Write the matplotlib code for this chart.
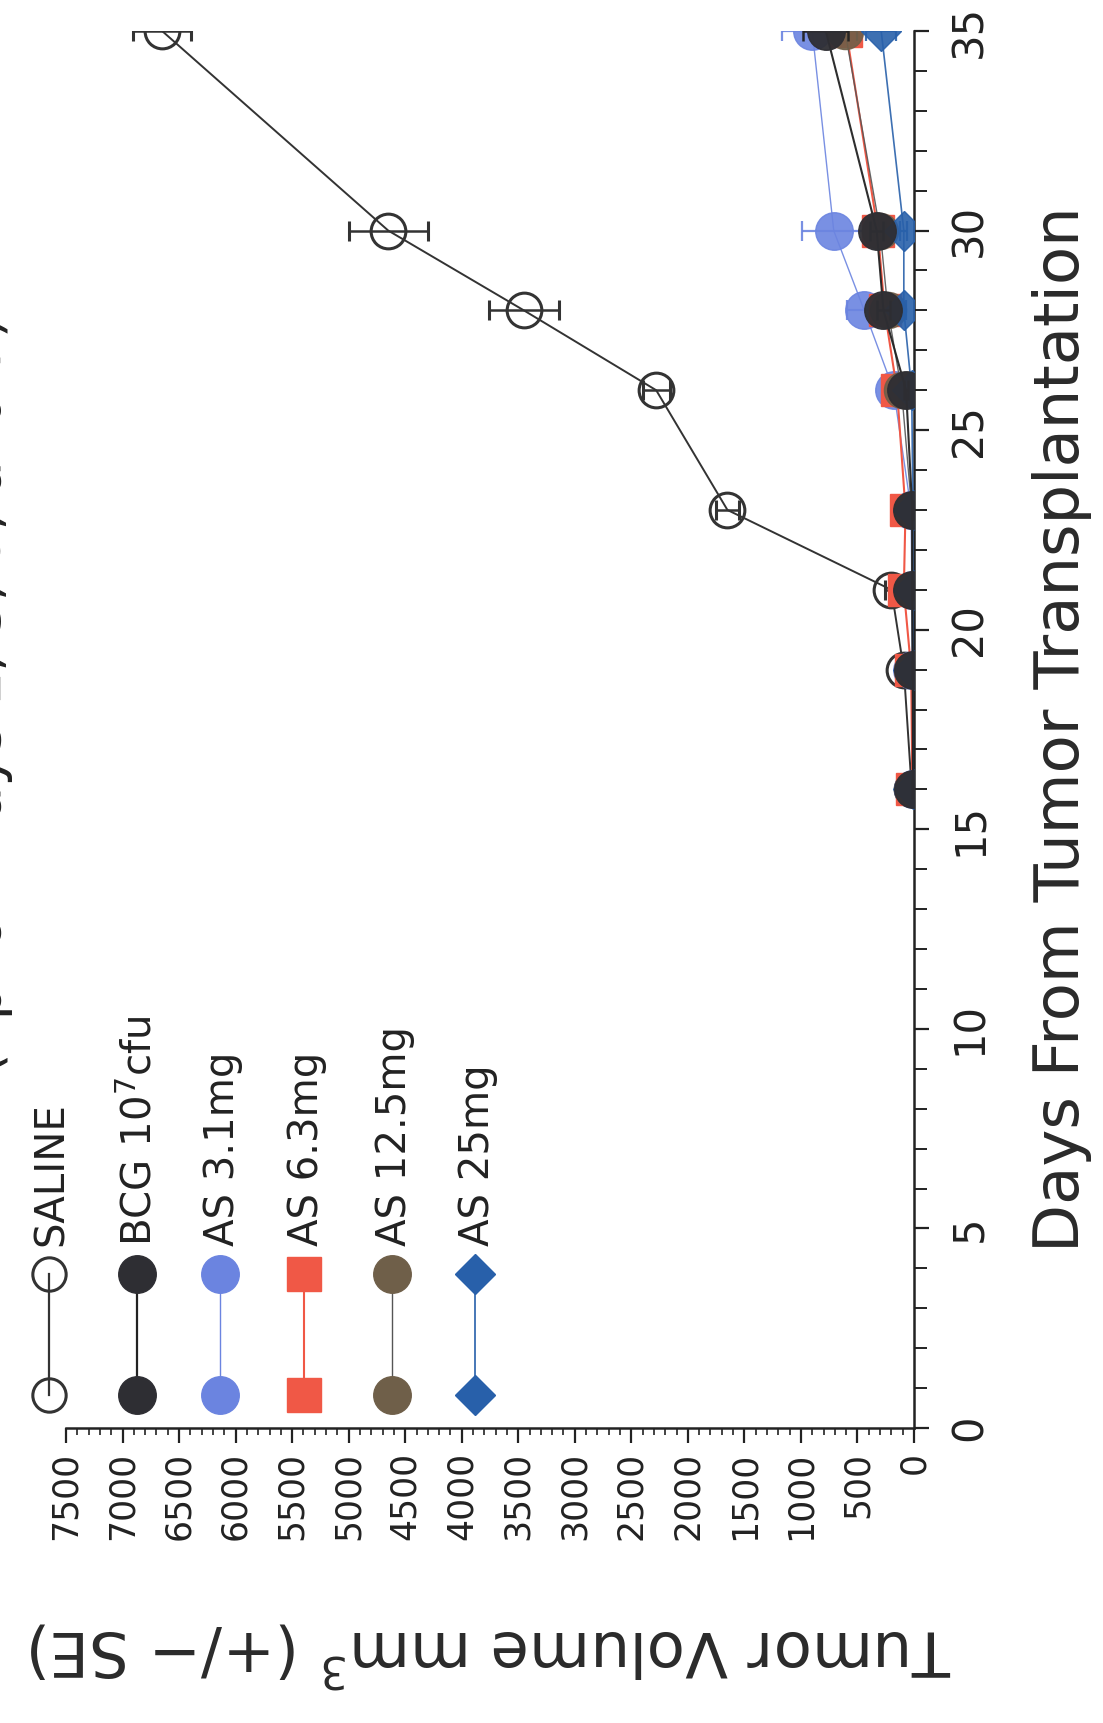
import numpy as np
import matplotlib
matplotlib.use('Agg')
import matplotlib.pyplot as plt
from matplotlib.ticker import MultipleLocator

# measurement days
days = [16, 19, 21, 23, 26, 28, 30, 35]

# mean tumour volume (mm^3) and SE per group
saline = [20, 90, 200, 1650, 2280, 3450, 4650, 6650]
saline_se = [10, 30, 60, 100, 120, 310, 350, 255]
bcg = [10, 10, 15, 15, 70, 270, 330, 780]
bcg_se = [5, 5, 5, 5, 20, 60, 60, 200]
as31 = [10, 15, 20, 25, 180, 440, 710, 900]
as31_se = [5, 5, 5, 10, 40, 150, 280, 265]
as63 = [15, 25, 90, 75, 150, 260, 320, 600]
as63_se = [5, 5, 10, 10, 30, 50, 60, 120]
as125 = [10, 15, 20, 20, 110, 230, 300, 610]
as125_se = [5, 5, 5, 5, 20, 40, 50, 110]
as25 = [5, 5, 10, 10, 20, 90, 90, 290]
as25_se = [5, 5, 5, 5, 10, 20, 30, 133]

labels = ['SALINE', 'BCG 10$^{7}$cfu', 'AS 3.1mg', 'AS 6.3mg', 'AS 12.5mg', 'AS 25mg']

plt.rcParams['font.family'] = 'DejaVu Sans'

W, H = 1103, 1723
fig = plt.figure(figsize=(W/100., H/100.), dpi=100)
fig.patch.set_facecolor('w')
ax = fig.add_axes([66./W, 1-1428./H, (914.-66)/W, (1428.-31)/H])

c_bcg = '#2e2e33'
c_31 = '#6b84e0'
c_63 = '#f05846'
c_125 = '#6f5f49'
c_25 = '#2860aa'

# series (chart is rotated: volume along x, days along y)
ax.errorbar(saline, days, xerr=saline_se, color='#333333', lw=1.4, marker='o', ms=25,
            mfc='none', mec='#333333', mew=2.2, capsize=7, elinewidth=1.8, capthick=1.8, zorder=2)
ax.errorbar(as31, days, xerr=as31_se, color=c_31, lw=1.0, marker='o', ms=27,
            mfc=c_31, mec=c_31, alpha=0.9, capsize=7, elinewidth=1.6, capthick=1.6, zorder=3)
ax.errorbar(as63, days, xerr=as63_se, color=c_63, lw=1.5, marker='s', ms=23,
            mfc=c_63, mec=c_63, capsize=7, elinewidth=1.6, capthick=1.6, zorder=4)
ax.errorbar(as125, days, xerr=as125_se, color='#555555', lw=1.0, marker='o', ms=26,
            mfc=c_125, mec=c_125, alpha=0.9, capsize=7, elinewidth=1.6, capthick=1.6, zorder=5)
ax.errorbar(as25, days, xerr=as25_se, color=c_25, lw=1.2, marker='D', ms=20,
            mfc=c_25, mec=c_25, alpha=0.9, capsize=7, elinewidth=1.6, capthick=1.6, zorder=6)
ax.errorbar(bcg, days, xerr=bcg_se, color='#222222', lw=1.5, marker='o', ms=27,
            mfc=c_bcg, mec=c_bcg, alpha=0.95, capsize=7, elinewidth=1.8, capthick=1.8, zorder=7)

ax.set_xlim(7500, 0)
ax.set_ylim(0, 35)

for sp in ['top', 'left']:
    ax.spines[sp].set_visible(False)
for sp in ['bottom', 'right']:
    ax.spines[sp].set_linewidth(1.8)
    ax.spines[sp].set_color('#222222')

ax.xaxis.set_major_locator(MultipleLocator(500))
ax.xaxis.set_minor_locator(MultipleLocator(100))
ax.yaxis.set_major_locator(MultipleLocator(5))
ax.yaxis.set_minor_locator(MultipleLocator(1))
ax.yaxis.tick_right()
ax.tick_params(axis='x', which='major', direction='out', length=11, width=1.6,
               labelsize=25, labelrotation=90, pad=6, colors='#222222')
ax.tick_params(axis='x', which='minor', direction='out', length=5, width=1.2, colors='#222222')
ax.tick_params(axis='y', which='major', direction='out', length=11, width=1.6,
               labelsize=30, labelrotation=90, pad=14, colors='#222222')
ax.tick_params(axis='y', which='minor', direction='out', length=9, width=1.4, colors='#222222')
for t in ax.get_yticklabels():
    t.set_va('center')

ax.yaxis.set_label_position('right')
ax.set_ylabel('Days From Tumor Transplantation', fontsize=45, rotation=90,
              labelpad=30, color='#2a2a2a')
ax.set_xlabel('Tumor Volume mm$^{3}$ (+/$-$ SE)', fontsize=45, rotation=180,
              labelpad=56, color='#2a2a2a')

# title, mostly cut off at the left edge as in the scan
fig.text(13./W, 1-695./H, '(i.p. on Days 1, 3, 5, and 7)', rotation=90,
         fontsize=40, ha='right', va='center', color='#222222')

# hand-made rotated legend
leg_x = [49, 137, 220, 304, 392, 475]
leg_styles = [
    dict(marker='o', mfc='none', mec='#333333', color='#333333', ms=24, mew=2.2, lw=1.6),
    dict(marker='o', mfc=c_bcg, mec=c_bcg, color='#222222', ms=27, lw=1.6),
    dict(marker='o', mfc=c_31, mec=c_31, color=c_31, ms=27, lw=1.0),
    dict(marker='s', mfc=c_63, mec=c_63, color=c_63, ms=24, lw=1.5),
    dict(marker='o', mfc=c_125, mec=c_125, color='#555555', ms=27, lw=1.0),
    dict(marker='D', mfc=c_25, mec=c_25, color=c_25, ms=20, lw=1.2),
]
for lx, st, lab in zip(leg_x, leg_styles, labels):
    fx = lx / W
    ax.plot([fx, fx], [1-1395./H, 1-1274./H], transform=fig.transFigure,
            clip_on=False, markevery=[0, 1], **st)
    fig.text(fx + 3./W, 1-1246./H, lab, rotation=90, fontsize=29, ha='center',
             va='bottom', color='#222222')

fig.savefig('out.png', dpi=100, facecolor='w')
